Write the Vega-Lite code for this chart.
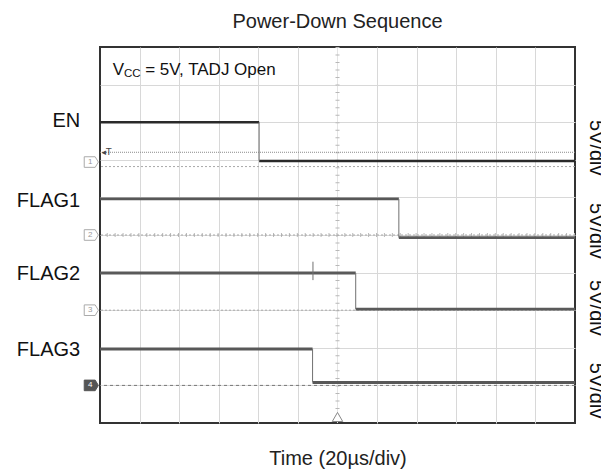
{
  "$schema": "https://vega.github.io/schema/vega-lite/v6.json",
  "width": 475,
  "height": 376,
  "autosize": "none",
  "padding": {"left": 100, "top": 47, "right": 26, "bottom": 47},
  "config": {"view": {"stroke": "#333", "strokeWidth": 2}, "font": "Liberation Sans"},
  "datasets": {
    "traces": [
      {"series": "EN", "x": 0, "x2": 4.02, "y": 8.0},
      {"series": "EN", "x": 4.02, "x2": 12, "y": 6.97},
      {"series": "FLAG1", "x": 0, "x2": 7.55, "y": 5.96},
      {"series": "FLAG1", "x": 7.55, "x2": 12, "y": 4.93},
      {"series": "FLAG2", "x": 0, "x2": 6.46, "y": 3.99},
      {"series": "FLAG2", "x": 6.46, "x2": 12, "y": 3.03},
      {"series": "FLAG3", "x": 0, "x2": 5.37, "y": 1.97},
      {"series": "FLAG3", "x": 5.37, "x2": 12, "y": 1.08}
    ],
    "edges": [
      {"series": "EN", "x": 4.02, "y": 8.0, "y2": 6.97},
      {"series": "FLAG1", "x": 7.55, "y": 5.96, "y2": 4.93},
      {"series": "FLAG2", "x": 6.46, "y": 3.99, "y2": 3.03},
      {"series": "FLAG3", "x": 5.37, "y": 1.97, "y2": 1.08},
      {"series": "FLAG2 glitch", "x": 5.38, "y": 4.29, "y2": 3.8}
    ],
    "leftLabels": [
      {"label": "EN", "x": -0.5, "y": 7.88},
      {"label": "FLAG1", "x": -0.5, "y": 5.75},
      {"label": "FLAG2", "x": -0.5, "y": 3.8},
      {"label": "FLAG3", "x": -0.5, "y": 1.78}
    ],
    "rightLabels": [
      {"label": "5V/div", "x": 12.38, "y": 8.06},
      {"label": "5V/div", "x": 12.38, "y": 5.85},
      {"label": "5V/div", "x": 12.38, "y": 3.8},
      {"label": "5V/div", "x": 12.38, "y": 1.6}
    ],
    "markers": [
      {"ch": "1", "x": -0.22, "y": 6.94},
      {"ch": "2", "x": -0.22, "y": 5.0},
      {"ch": "3", "x": -0.22, "y": 3.0}
    ]
  },
  "layer": [
    {
      "data": {"name": "traces"},
      "mark": {"type": "rule", "opacity": 0},
      "encoding": {
        "x": {"field": "x", "type": "quantitative", "scale": {"domain": [0, 12], "nice": false, "zero": false},
          "axis": {"values": [1, 2, 3, 4, 5, 7, 8, 9, 10, 11], "grid": true, "gridColor": "#d8d8d8", "labels": false, "ticks": false, "domain": false,
            "title": "Time (20µs/div)", "titleFont": "Liberation Sans", "titleFontSize": 20, "titleFontWeight": "normal", "titleColor": "#222", "titleY": 41, "titleBaseline": "alphabetic"}},
        "y": {"field": "y", "type": "quantitative", "scale": {"domain": [0, 10], "nice": false, "zero": false},
          "axis": {"values": [1, 2, 3, 4, 5, 6, 7, 8, 9], "grid": true, "gridColor": "#d8d8d8", "labels": false, "ticks": false, "domain": false, "title": null}}
      }
    },
    {
      "data": {"values": [{"t": "Power-Down Sequence", "x": 6, "y": 10.505}]},
      "mark": {"type": "text", "align": "center", "baseline": "alphabetic", "fontSize": 20, "font": "Liberation Sans", "color": "#222"},
      "encoding": {"x": {"field": "x", "type": "quantitative"}, "y": {"field": "y", "type": "quantitative"}, "text": {"field": "t"}}
    },
    {
      "data": {"values": [{"x": 6}]},
      "mark": {"type": "rule", "color": "#e4e4e4", "strokeWidth": 1},
      "encoding": {"x": {"field": "x", "type": "quantitative"}}
    },
    {
      "data": {"values": [{"x": 6}]},
      "mark": {"type": "rule", "color": "#b8b8b8", "strokeWidth": 4, "strokeDash": [1, 6.52]},
      "encoding": {"x": {"field": "x", "type": "quantitative"}}
    },
    {
      "data": {"values": [{"y": 5}]},
      "mark": {"type": "rule", "color": "#b8b8b8", "strokeWidth": 4, "strokeDash": [1, 6.92]},
      "encoding": {"y": {"field": "y", "type": "quantitative"}}
    },
    {
      "data": {"values": [{"y": 6.82}, {"y": 5.0}, {"y": 3.0}]},
      "mark": {"type": "rule", "color": "#a8a8a8", "strokeWidth": 1, "strokeDash": [2, 2]},
      "encoding": {"y": {"field": "y", "type": "quantitative"}}
    },
    {
      "data": {"values": [{"y": 1.0}]},
      "mark": {"type": "rule", "color": "#777", "strokeWidth": 1, "strokeDash": [3, 3]},
      "encoding": {"y": {"field": "y", "type": "quantitative"}}
    },
    {
      "data": {"values": [{"y": 7.2}]},
      "mark": {"type": "rule", "color": "#8a8a8a", "strokeWidth": 1, "strokeDash": [1, 1]},
      "encoding": {"y": {"field": "y", "type": "quantitative"}}
    },
    {
      "data": {"name": "traces"},
      "mark": {"type": "rule"},
      "encoding": {
        "x": {"field": "x", "type": "quantitative"},
        "x2": {"field": "x2"},
        "y": {"field": "y", "type": "quantitative"},
        "color": {"field": "series", "type": "nominal", "legend": null,
          "scale": {"domain": ["EN", "FLAG1", "FLAG2", "FLAG3"], "range": ["#2a2a2a", "#585858", "#5a5a5a", "#585858"]}},
        "strokeWidth": {"field": "series", "type": "nominal", "legend": null,
          "scale": {"domain": ["EN", "FLAG1", "FLAG2", "FLAG3"], "range": [2.4, 3, 2.2, 3]}}
      }
    },
    {
      "data": {"name": "edges"},
      "mark": {"type": "rule", "color": "#707070", "strokeWidth": 1},
      "encoding": {
        "x": {"field": "x", "type": "quantitative"},
        "y": {"field": "y", "type": "quantitative"},
        "y2": {"field": "y2"}
      }
    },
    {
      "data": {"name": "leftLabels"},
      "mark": {"type": "text", "align": "right", "baseline": "alphabetic", "fontSize": 20, "font": "Liberation Sans", "color": "#111"},
      "encoding": {
        "x": {"field": "x", "type": "quantitative"},
        "y": {"field": "y", "type": "quantitative"},
        "text": {"field": "label"}
      }
    },
    {
      "data": {"name": "rightLabels"},
      "mark": {"type": "text", "align": "left", "baseline": "alphabetic", "angle": 90, "fontSize": 20, "font": "Liberation Sans", "color": "#111"},
      "encoding": {
        "x": {"field": "x", "type": "quantitative"},
        "y": {"field": "y", "type": "quantitative"},
        "text": {"field": "label"}
      }
    },
    {
      "data": {"values": [{"t": "V", "x": 0.32, "y": 9.255}]},
      "mark": {"type": "text", "align": "left", "baseline": "alphabetic", "fontSize": 17, "font": "Liberation Sans", "color": "#111"},
      "encoding": {"x": {"field": "x", "type": "quantitative"}, "y": {"field": "y", "type": "quantitative"}, "text": {"field": "t"}}
    },
    {
      "data": {"values": [{"t": "CC", "x": 0.605, "y": 9.2}]},
      "mark": {"type": "text", "align": "left", "baseline": "alphabetic", "fontSize": 11.5, "font": "Liberation Sans", "color": "#111"},
      "encoding": {"x": {"field": "x", "type": "quantitative"}, "y": {"field": "y", "type": "quantitative"}, "text": {"field": "t"}}
    },
    {
      "data": {"values": [{"t": "= 5V, TADJ Open", "x": 1.14, "y": 9.255}]},
      "mark": {"type": "text", "align": "left", "baseline": "alphabetic", "fontSize": 17, "font": "Liberation Sans", "color": "#111"},
      "encoding": {"x": {"field": "x", "type": "quantitative"}, "y": {"field": "y", "type": "quantitative"}, "text": {"field": "t"}}
    },
    {
      "data": {"name": "markers"},
      "mark": {"type": "point", "shape": "M-1,-0.75L0.55,-0.75L1,0L0.55,0.75L-1,0.75Z", "size": 200, "filled": true, "fill": "#fff", "stroke": "#aaa", "strokeWidth": 1, "opacity": 1},
      "encoding": {"x": {"field": "x", "type": "quantitative"}, "y": {"field": "y", "type": "quantitative"}}
    },
    {
      "data": {"name": "markers"},
      "mark": {"type": "text", "align": "center", "baseline": "middle", "fontSize": 8, "dx": -1, "font": "Liberation Sans", "color": "#999"},
      "encoding": {"x": {"field": "x", "type": "quantitative"}, "y": {"field": "y", "type": "quantitative"}, "text": {"field": "ch"}}
    },
    {
      "data": {"values": [{"ch": "4", "x": -0.22, "y": 1.0}]},
      "mark": {"type": "point", "shape": "M-1,-0.75L0.55,-0.75L1,0L0.55,0.75L-1,0.75Z", "size": 200, "filled": true, "fill": "#555", "stroke": "#555", "strokeWidth": 1, "opacity": 1},
      "encoding": {"x": {"field": "x", "type": "quantitative"}, "y": {"field": "y", "type": "quantitative"}}
    },
    {
      "data": {"values": [{"ch": "4", "x": -0.22, "y": 1.0}]},
      "mark": {"type": "text", "align": "center", "baseline": "middle", "fontSize": 8, "dx": -1, "font": "Liberation Sans", "color": "#fff"},
      "encoding": {"x": {"field": "x", "type": "quantitative"}, "y": {"field": "y", "type": "quantitative"}, "text": {"field": "ch"}}
    },
    {
      "data": {"values": [{"x": 6, "y": 0.16}]},
      "mark": {"type": "point", "shape": "triangle-up", "size": 110, "filled": true, "fill": "#fff", "stroke": "#888", "strokeWidth": 1, "opacity": 1},
      "encoding": {"x": {"field": "x", "type": "quantitative"}, "y": {"field": "y", "type": "quantitative"}}
    },
    {
      "data": {"values": [{"t": "◂T", "x": 0.04, "y": 7.2}]},
      "mark": {"type": "text", "align": "left", "baseline": "middle", "fontSize": 9, "font": "DejaVu Sans", "color": "#444"},
      "encoding": {"x": {"field": "x", "type": "quantitative"}, "y": {"field": "y", "type": "quantitative"}, "text": {"field": "t"}}
    }
  ]
}
